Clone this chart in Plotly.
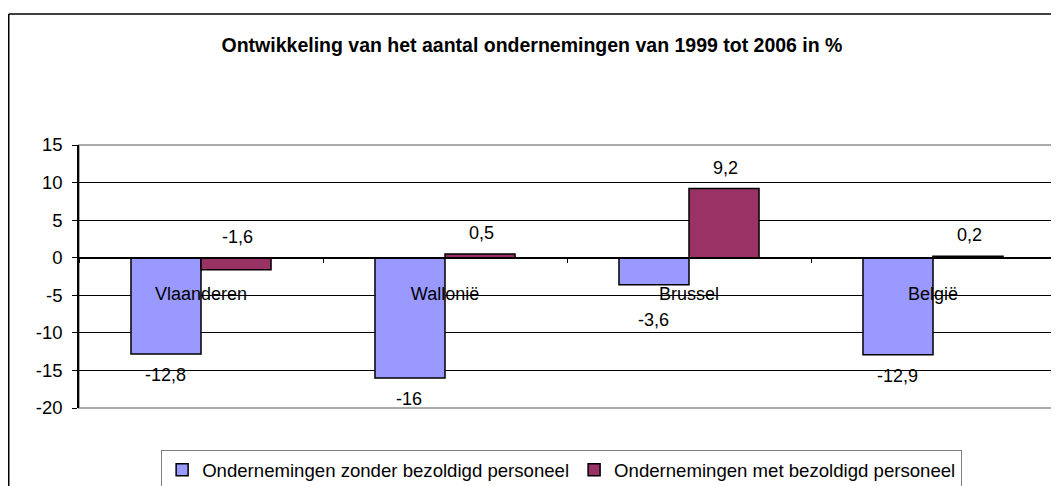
import plotly.graph_objects as go

categories = ["Vlaanderen", "Wallonië", "Brussel", "België"]
zonder = [-12.8, -16, -3.6, -12.9]
met = [-1.6, 0.5, 9.2, 0.2]
series_names = ["Ondernemingen zonder bezoldigd personeel", "Ondernemingen met bezoldigd personeel"]
y_ticks = [15, 10, 5, 0, -5, -10, -15, -20]

FONT = "Liberation Sans, Arial"

# The page body has an 8px default margin; figure geometry compensates for it.
W, H = 1051, 478
L, R, T, B = 71, 4, 137, 78
PW, PH = W - L - R, H - T - B

fig = go.Figure()
fig.add_trace(go.Bar(x=categories, y=zonder, name=series_names[0],
                     marker=dict(color="#9999FF", line=dict(color="black", width=1.5))))
fig.add_trace(go.Bar(x=categories, y=met, name=series_names[1],
                     marker=dict(color="#993366", line=dict(color="black", width=1.5))))

def fmt(v):
    return ("%g" % v).replace(".", ",")

annotations = []
for i, c in enumerate(categories):
    v = zonder[i]
    extra = 14 if c == "Brussel" else 0
    annotations.append(dict(x=c, y=v, xref="x", yref="y", text=fmt(v), showarrow=False,
                            xshift=-36, yanchor="middle", yshift=-21 - extra,
                            font=dict(family=FONT, size=18, color="black")))
    v = met[i]
    annotations.append(dict(x=c, y=max(v, 0), xref="x", yref="y", text=fmt(v), showarrow=False,
                            xshift=36, yanchor="middle", yshift=21,
                            font=dict(family=FONT, size=18, color="black")))

bx = (0.75 - L) / PW
by = (T + PH - 6) / PH

fig.update_layout(
    width=W, height=H,
    margin=dict(l=L, r=R, t=T, b=B, autoexpand=False),
    paper_bgcolor="white", plot_bgcolor="white",
    barmode="group", bargap=0.426, bargroupgap=0,
    title=dict(text="<b>Ontwikkeling van het aantal ondernemingen van 1999 tot 2006 in %</b>",
               x=524 / W, xref="container", xanchor="center", y=1 - 37 / H, yref="container",
               yanchor="middle", font=dict(family=FONT, size=19.5, color="black")),
    font=dict(family=FONT, size=18, color="black"),
    showlegend=True,
    legend=dict(orientation="h", x=0.4945, xanchor="center", y=-0.16, yanchor="top",
                bordercolor="#808080", borderwidth=1, font=dict(family=FONT, size=18.6),
                tracegroupgap=0),
    annotations=annotations,
    shapes=[
        dict(type="rect", xref="paper", yref="paper", x0=0, x1=1, y0=0, y1=1,
             line=dict(color="#909090", width=1.5), layer="below"),
        dict(type="line", xref="paper", yref="paper", x0=bx, x1=1.2, y0=by, y1=by,
             line=dict(color="black", width=1.5)),
        dict(type="line", xref="paper", yref="paper", x0=bx, x1=bx, y0=-0.6, y1=by,
             line=dict(color="black", width=1.5)),
    ],
)

fig.update_yaxes(range=[-20, 15], tickvals=y_ticks, ticktext=[str(v) for v in y_ticks],
                 showgrid=True, gridcolor="black", gridwidth=1,
                 showline=True, linecolor="black", linewidth=1.5, ticks="outside", ticklen=5,
                 tickcolor="black", zeroline=False, ticklabelstandoff=6,
                 tickfont=dict(family=FONT, size=18.5))
fig.update_xaxes(anchor="free", position=20 / 35, showline=True, linecolor="black", linewidth=1.5,
                 ticks="outside", ticklen=5, tickcolor="black", tickson="boundaries",
                 ticklabelstandoff=20, tickfont=dict(family=FONT, size=18), showgrid=False)

fig.write_html("out.html")
